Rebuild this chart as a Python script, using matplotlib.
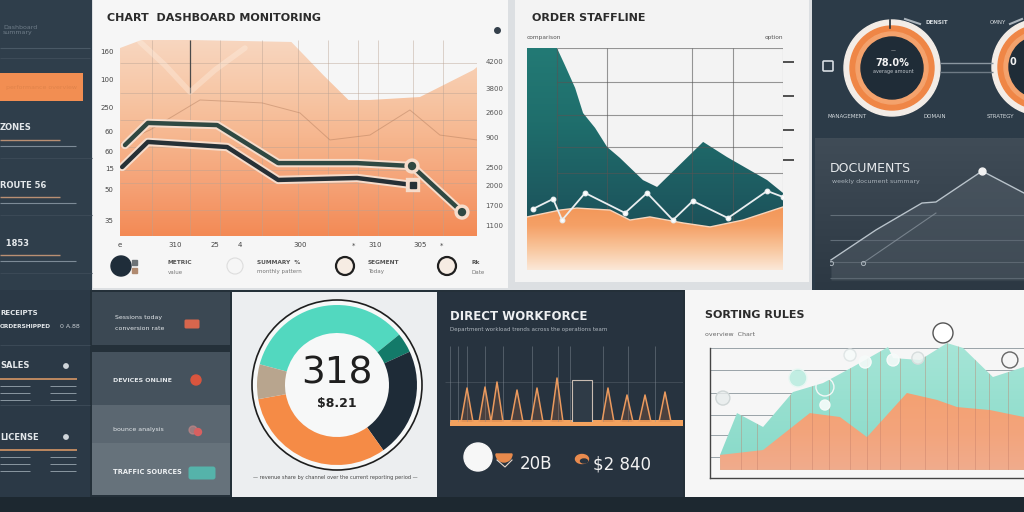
import numpy as np
import matplotlib
matplotlib.use("Agg")
import matplotlib.pyplot as plt
from matplotlib.patches import Rectangle, Circle, Wedge, FancyBboxPatch, Ellipse
from matplotlib.colors import LinearSegmentedColormap
import matplotlib.patheffects as pe

W, H = 1024, 512

# ---- top-left panel: peach area + two lines (x 0..10, y 0..100)
area1_x = [0.0, 0.6, 2.0, 4.8, 5.7, 6.4, 7.0, 8.4, 9.9, 10.0]
area1_y = [95.9, 100, 100, 99, 82, 69.4, 69.4, 70.9, 84.7, 86.2]
thin1_x = [0.03, 0.84, 2.24, 3.98, 5.04, 5.88, 7.0, 8.12, 8.96, 10.0]
thin1_y = [47.4, 54.1, 69.4, 67.9, 62.8, 49.0, 51.5, 64.3, 51.5, 49.0]
ribbon1_x = [0.56, 1.26, 1.96, 2.66, 3.5]
ribbon1_y = [99, 87.2, 73.5, 84.7, 95.9]
line_a_x = [0.14, 0.78, 2.72, 4.43, 6.64, 8.18, 9.58]
line_a_y = [46.4, 57.7, 56.6, 37.2, 37.2, 35.7, 12.2]
line_b_x = [0.06, 0.78, 3.0, 4.43, 6.64, 8.21]
line_b_y = [35.2, 48.0, 45.4, 28.6, 29.6, 26.0]
grid1_x = [0.9, 1.96, 2.8, 3.98, 4.99, 5.83, 6.67, 7.23, 8.21, 9.05, 10.0]
grid1_y = [88.3, 73.0, 59.2, 45.4, 33.7, 27.0, 13.3]
left1_vals = [93.9, 80.1, 65.8, 53.1, 42.9, 34.2, 23.5, 7.7]
left1_labels = ["160", "100", "250", "60", "60", "15", "50", "35"]
right1_vals = [88.8, 75.5, 62.8, 50.5, 34.7, 26.0, 15.8, 5.6]
right1_labels = ["4200", "3800", "2600", "900", "2500", "2000", "1700", "1100"]
bottom1_vals = [0.0, 1.54, 2.66, 3.36, 5.04, 6.53, 7.14, 8.4, 9.02]
bottom1_labels = ["e", "310", "25", "4", "300", "*", "310", "305", "*"]

# ---- top-middle panel (x 0..10, y 0..100)
teal2_x = [0, 1.17, 1.48, 1.88, 2.19, 2.66, 3.13, 3.63, 4.53, 5.08, 6.88, 7.81, 9.38, 10.0]
teal2_y = [100, 100, 92.3, 82.0, 70.7, 64.0, 55.4, 50.5, 40.5, 37.4, 57.7, 50.9, 40.5, 34.7]
orange2_x = [0, 1.29, 1.95, 3.24, 4.02, 4.8, 6.09, 7.15, 8.44, 10.0]
orange2_y = [23.9, 27.0, 27.9, 27.0, 22.5, 23.9, 21.2, 19.4, 22.5, 28.4]
white2_x = [0.23, 1.02, 1.37, 2.27, 3.83, 4.69, 5.7, 6.48, 7.85, 9.38, 10.0]
white2_y = [27.5, 32.0, 22.5, 34.7, 25.7, 34.7, 22.5, 31.1, 23.4, 35.6, 32.9]
grid2_x = [1.17, 3.13, 6.45, 8.05, 10.0]
grid2_y = [100, 84.7, 69.8, 55.4, 43.7]
ticks2_y = [93.7, 78.4, 63.1, 49.5]

# ---- top-right dark card line (x 0..10, y 0..100)
l3_x = [0.05, 2.37, 4.74, 5.46, 7.84, 10.0]
l3_y = [15.4, 38.5, 59.2, 60.0, 83.8, 66.9]
l3b_x = [1.7, 5.46]
l3b_y = [13.1, 51.5]
grid3_y = [50, 30.8, 13.8, 1.5]

# ---- donut
donut_shares = [35, 4, 22, 32, 7]
donut_colors = ["#52d8bf", "#137a69", "#1e2b37", "#f58b46", "#b8a58e"]

# ---- spike chart (x in panel px offset, y height)
spike_x = [22, 40, 52, 72, 92, 112, 163, 182, 200, 220]
spike_h = [34, 35, 40, 32, 34, 44, 34, 27, 27, 30]
block_x, block_h = 137, 42
grid5_x = [5, 13, 22, 40, 58, 87, 113, 125, 158, 183, 210]

# ---- bottom-right area chart (x 0..10, y 0..100)
teal6_x = [0.32, 0.86, 1.69, 2.64, 3.60, 4.55, 5.67, 5.83, 6.69, 7.55, 8.06, 9.01, 10.0]
teal6_y = [14.6, 41.1, 32.3, 54.4, 60.1, 70.3, 82.9, 75.9, 74.7, 85.4, 82.3, 63.9, 70.3]
org6_x = [0.32, 1.69, 3.18, 4.14, 5.0, 6.27, 7.23, 7.87, 8.92, 10.0]
org6_y = [14.6, 17.7, 41.1, 38.6, 25.9, 53.8, 49.4, 44.9, 43.0, 38.6]
grid6_y = [82.3, 68.4, 53.8, 39.9, 27.2, 13.3]
streak6_x = [1.0, 1.5, 2.55, 3.25, 3.8, 4.45, 5.0, 5.4, 6.05, 6.85, 7.55, 7.9, 8.45, 8.9, 9.5]
dots6_x = [0.41, 2.80, 3.66, 3.66, 4.46, 4.94, 5.83, 6.62, 7.42, 9.55]
dots6_y = [50.6, 63.3, 57.6, 46.2, 77.8, 73.4, 74.7, 75.9, 91.8, 74.7]
dots6_r = [7, 9, 9, 5, 6, 6, 6, 6, 10, 8]

fig = plt.figure(figsize=(W / 100, H / 100), dpi=100)
bg = fig.add_axes([0, 0, 1, 1])
bg.set_xlim(0, W)
bg.set_ylim(H, 0)
bg.set_autoscale_on(False)
bg.axis("off")


def rect(x0, y0, x1, y1, color, z=1, **kw):
    bg.add_patch(Rectangle((x0, y0), x1 - x0, y1 - y0, facecolor=color, edgecolor="none", zorder=z, **kw))


def vgrad(x0, y0, x1, y1, colors, z=1):
    cmap = LinearSegmentedColormap.from_list("g", colors)
    bg.imshow(np.linspace(0, 1, 128).reshape(-1, 1), extent=(x0, x1, y1, y0), origin="upper",
              aspect="auto", cmap=cmap, zorder=z, interpolation="bilinear")


def px_axes(x0, y0, x1, y1):
    ax = fig.add_axes([x0 / W, 1 - y1 / H, (x1 - x0) / W, (y1 - y0) / H])
    ax.patch.set_visible(False)
    return ax


def clip_grad(ax, poly, colors, extent, z):
    cmap = LinearSegmentedColormap.from_list("g", colors)
    im = ax.imshow(np.linspace(0, 1, 128).reshape(-1, 1), extent=extent, origin="lower",
                   aspect="auto", cmap=cmap, zorder=z, interpolation="bilinear")
    im.set_clip_path(poly.get_paths()[0], transform=ax.transData)
    return im


def txt(x, y, s, size=5, color="#333333", weight="normal", ha="left", **kw):
    bg.text(x, y, s, fontsize=size, color=color, fontweight=weight, ha=ha, va="center", zorder=6, **kw)


def hline(x0, x1, y, color, lw=1.0, alpha=1.0):
    bg.plot([x0, x1], [y, y], color=color, lw=lw, alpha=alpha, zorder=4, solid_capstyle="butt")


# ---------- backgrounds
rect(0, 0, W, H, "#2b3945", z=0)
rect(0, 0, 92, 290, "#2f3e4b")
rect(92, 0, 812, 292, "#dcdfe2")
rect(93, 0, 508, 288, "#f6f6f6")
rect(515, 0, 809, 282, "#f3f3f3")
rect(812, 0, W, 292, "#2c3b48")
vgrad(815, 138, W, 290, ["#404c57", "#36424d", "#2c3843"])
rect(90, 290, W, 497, "#243039")
rect(0, 290, 90, 497, "#2b3946")
rect(0, 497, W, H, "#1d2830")

# ---------- sidebar
txt(3, 30, "Dashboard\nsummary", 4.5, "#6f7d89")
hline(0, 90, 48, "#4a5966", 0.8)
hline(0, 90, 58, "#3d4b58", 0.8)
rect(0, 73, 83, 101, "#f28e52", z=2)
txt(6, 87, "performance overview", 4.5, "#e0834a")
for y0, label in [(128, "ZONES"), (185, "ROUTE 56"), (243, "  1853")]:
    txt(0, y0, label, 6, "#e3e7ea", "bold")
    hline(0, 60, y0 + 12, "#b98f73", 1.0)
    hline(0, 76, y0 + 18, "#7d8b97", 0.8)
    hline(0, 92, y0 + 30, "#3b4956", 0.8)
txt(0, 313, "RECEIPTS", 5, "#e3e7ea", "bold")
txt(0, 326, "ORDERSHIPPED", 4.2, "#e3e7ea", "bold")
txt(60, 326, "0 A.88", 4.5, "#c9cfd4")
hline(0, 90, 345, "#3b4956", 0.8)
for y0, label in [(366, "SALES"), (437, "LICENSE")]:
    txt(0, y0, label, 6, "#e3e7ea", "bold")
    bg.add_patch(Circle((66, y0), 2.2, color="#cfd5da", zorder=5))
    hline(0, 77, y0 + 13, "#c98f62", 1.3)
    for k in range(3):
        hline(0, 30, y0 + 20 + 7 * k, "#9aa6b0", 0.6)
        hline(50, 76, y0 + 20 + 7 * k, "#9aa6b0", 0.6)
hline(0, 90, 405, "#3b4956", 0.8)

# ---------- panel 1
txt(107, 18, "CHART  DASHBOARD MONITORING", 8, "#2b2b2b", "bold")
bg.plot(497, 30, marker="o", ms=4, color="#34404b", zorder=5)
ax1 = px_axes(120, 40, 477, 236)
poly1 = ax1.fill_between(area1_x, 0, area1_y, facecolor="none", lw=0)
clip_grad(ax1, poly1, ["#f38a55", "#f5a175", "#f6b68e", "#f7c8a8", "#f8d6bf"], (0, 10, 0, 100), 1)
ax1.vlines(grid1_x, 0, 100, colors="#b9a293", lw=0.7, alpha=0.45, zorder=2)
ax1.hlines(grid1_y, 0, 10, colors="#b9a293", lw=0.7, alpha=0.45, zorder=2)
ax1.vlines([1.96], 73, 100, colors="#4a4a4a", lw=0.9, zorder=3)
ax1.plot(ribbon1_x, ribbon1_y, color="#fff2e6", lw=4, alpha=0.35, zorder=3, solid_capstyle="round")
ax1.plot(thin1_x, thin1_y, color="#b07a5a", lw=0.7, alpha=0.45, zorder=3)
glow = [pe.withStroke(linewidth=6, foreground="#f6dccb")]
ax1.plot(line_a_x, line_a_y, color="#2f4842", lw=3.2, zorder=5, solid_capstyle="round", path_effects=glow,
         marker="o", markevery=[5, 6], ms=5)
ax1.plot(line_b_x, line_b_y, color="#263036", lw=3.2, zorder=5, solid_capstyle="round", path_effects=glow,
         marker="s", markevery=[5], ms=4)
ax1.set_xlim(0, 10)
ax1.set_ylim(0, 100)
for s in ax1.spines.values():
    s.set_visible(False)
ax1.set_yticks(left1_vals, left1_labels)
ax1.set_xticks(bottom1_vals, bottom1_labels)
ax1.tick_params(length=0, labelsize=5, labelcolor="#444444", pad=4.5)
ax1r = ax1.twinx()
ax1r.set_ylim(0, 100)
ax1r.set_yticks(right1_vals, right1_labels)
ax1r.tick_params(length=0, labelsize=5, labelcolor="#555555", pad=6)
for s in ax1r.spines.values():
    s.set_visible(False)

# legend row under panel 1
bg.add_patch(Circle((121, 266), 10, color="#1f2d3a", zorder=5))
bg.add_patch(Rectangle((132, 260), 5, 5, color="#6d7377", zorder=5))
bg.add_patch(Rectangle((132, 268), 5, 5, color="#b08a70", zorder=5))
bg.add_patch(Circle((235, 266), 8, facecolor="none", edgecolor="#dddddd", lw=0.8, zorder=5))
for cx in (345, 447):
    bg.add_patch(Circle((cx, 266), 9, facecolor="#f6ece3", edgecolor="#1f1f1f", lw=1.6, zorder=5))
for x0, a, b in [(168, "METRIC", "value"), (257, "SUMMARY  %", "monthly pattern"),
                 (368, "SEGMENT", "Today"), (471, "Rk", "Date")]:
    txt(x0, 262, a, 4.2, "#555555", "bold")
    txt(x0, 272, b, 4.0, "#777777")

# ---------- panel 2
txt(532, 18, "ORDER STAFFLINE", 8, "#2b2b2b", "bold")
txt(527, 37, "comparison", 4.2, "#555555")
txt(783, 37, "option", 4.2, "#555555", ha="right")
ax2 = px_axes(527, 48, 783, 270)
poly2t = ax2.fill_between(teal2_x, 0, teal2_y, facecolor="none", lw=0)
clip_grad(ax2, poly2t, ["#1a4550", "#1d5a60", "#1f6e6c", "#237a75"], (0, 10, 0, 100), 1)
ax2.vlines(grid2_x, 20, 100, colors="#555555", lw=0.8, alpha=0.6, zorder=1.5)
ax2.hlines(grid2_y, 1.17, 10, colors="#555555", lw=0.8, alpha=0.6, zorder=1.5)
poly2o = ax2.fill_between(orange2_x, 0, orange2_y, facecolor="none", lw=0)
clip_grad(ax2, poly2o, ["#fbe8d8", "#f8c49a", "#f5a066", "#f29556"], (0, 10, 0, 30), 2)
ax2.plot(orange2_x, orange2_y, color="#f7d5bc", lw=1.0, zorder=3)
ax2.plot(white2_x, white2_y, color="#e9eef0", lw=1.3, zorder=4, marker="o", ms=3.2,
         markerfacecolor="white", markeredgecolor="#e9eef0")
ax2.set_xlim(0, 10)
ax2.set_ylim(0, 100)
for s in ax2.spines.values():
    s.set_visible(False)
ax2.set_xticks([])
ax2.yaxis.tick_right()
ax2.set_yticks(ticks2_y, [""] * len(ticks2_y))
ax2.tick_params(axis="y", length=8, width=1.2, color="#333333", pad=1)

# ---------- panel 3 (dark, gauges)
for cx, cy, val in [(892, 68, "78.0%"), (1040, 67, "0")]:
    bg.add_patch(Circle((cx, cy), 48, color="#f3ece6", zorder=3))
    bg.add_patch(Circle((cx, cy), 42, color="#ef8646", zorder=3))
    bg.add_patch(Circle((cx, cy), 36, color="#f4a26c", zorder=3))
    bg.add_patch(Circle((cx, cy), 31, color="#1f2c37", zorder=3))
    bg.plot([cx - 2, cx - 2], [cy - 48, cy - 40], color="#1f2c37", lw=1.2, zorder=4)
    txt(cx if cx < 1000 else 1013, cy - 5, val, 7, "#f2f2f2", "bold", ha="center")
txt(893, 51, "—", 3.5, "#cccccc", ha="center")
txt(893, 72, "average amount", 3.5, "#c0c6cc", ha="center")
bg.plot([905, 920], [19, 24], color="#aab3bb", lw=1.5, zorder=4)
txt(925, 22, "DENSIT", 4, "#d8dde1", "bold")
txt(990, 22, "OMNY", 4, "#d8dde1")
bg.plot([1010, 1022], [24, 19], color="#aab3bb", lw=1.5, zorder=4)
bg.add_patch(FancyBboxPatch((824, 62), 8, 8, boxstyle="round,pad=1", facecolor="#2c3b48",
                            edgecolor="#d7dde2", lw=1.2, zorder=4))
hline(940, 993, 63, "#8a96a0", 1.0)
hline(940, 993, 72, "#6e7a85", 1.0)
txt(847, 117, "MANAGEMENT", 4, "#d4dade", ha="center")
txt(935, 117, "DOMAIN", 4, "#d4dade", ha="center")
txt(1000, 117, "STRATEGY", 4, "#d4dade", ha="center")

txt(830, 168, "DOCUMENTS", 9, "#e8ebee")
txt(832, 181, "weekly document summary", 4.5, "#a9b2ba")
ax3 = px_axes(830, 150, 1024, 280)
ax3.hlines(grid3_y, 0, 10, colors="#6e7a84", lw=0.8, alpha=0.8, zorder=1)
ax3.fill_between(l3_x, 0, l3_y, color="#56616b", alpha=0.45, lw=0, zorder=2)
ax3.plot(l3_x, l3_y, color="#b9c3cb", lw=1.0, zorder=3)
ax3.plot(l3b_x, l3b_y, color="#8d98a2", lw=0.8, alpha=0.7, zorder=3)
ax3.plot([l3_x[4]], [l3_y[4]], "o", ms=5, color="#f2f2f2", zorder=4)
ax3.plot([l3_x[0], l3b_x[0]], [l3_y[0] - 2, l3b_y[0]], "o", ms=3, mfc="none", mec="#aab3bb", mew=0.7, zorder=4)
ax3.set_xlim(0, 10)
ax3.set_ylim(0, 100)
ax3.axis("off")

# ---------- bottom-left stack
rect(92, 292, 230, 345, "#3b4853", z=2)
rect(92, 352, 230, 405, "#45525d", z=2)
rect(92, 405, 230, 443, "#5b6771", z=2)
rect(92, 443, 230, 495, "#66727b", z=2)
txt(115, 318, "Sessions today", 4.5, "#e4e8eb")
txt(115, 328, "conversion rate", 4.5, "#e4e8eb")
txt(113, 380, "DEVICES ONLINE", 4.5, "#e4e8eb", "bold")
txt(113, 430, "bounce analysis", 4.5, "#e4e8eb")
txt(113, 472, "TRAFFIC SOURCES", 4.8, "#eef1f3", "bold")
bg.add_patch(FancyBboxPatch((186, 321), 12, 6, boxstyle="round,pad=1.5", facecolor="#d7664d",
                            edgecolor="none", zorder=4))
bg.add_patch(Circle((196, 380), 5, color="#d9553e", zorder=4))
bg.add_patch(Circle((193, 430), 4, color="#c98989", alpha=0.6, zorder=4))
bg.add_patch(Circle((198, 432), 3.5, color="#d86060", zorder=4))
bg.add_patch(FancyBboxPatch((191, 469), 22, 8, boxstyle="round,pad=2.5", facecolor="#55b3aa",
                            edgecolor="none", zorder=4))

# ---------- donut panel
rect(232, 292, 437, 497, "#eceef0", z=2)
bg.add_patch(Circle((337, 385), 85, facecolor="#f7f8f8", edgecolor="#1e1e1e", lw=1.2, zorder=3))
ax4 = px_axes(257, 305, 417, 465)
ax4.pie(donut_shares, colors=donut_colors, startangle=165, counterclock=False,
        wedgeprops=dict(width=0.35, edgecolor="none"))
ax4.set_xlim(-1, 1)
ax4.set_ylim(-1, 1)
txt(337, 373, "318", 27, "#1f1f1f", ha="center")
txt(337, 404, "$8.21", 9, "#222222", "bold", ha="center")
txt(335, 478, "— revenue share by channel over the current reporting period —", 3.6, "#444444", ha="center")

# ---------- spike panel
rect(437, 292, 683, 497, "#27333f", z=2)
txt(450, 316, "DIRECT WORKFORCE", 8.5, "#eef0f2", "bold")
txt(450, 330, "Department workload trends across the operations team", 4, "#b0b8bf")
ax5 = px_axes(445, 340, 683, 422)
ax5.vlines(grid5_x, 0, 76, colors="#8a949d", lw=0.6, alpha=0.5, zorder=1)
ax5.hlines([40], 0, 238, colors="#8a949d", lw=0.5, alpha=0.35, zorder=1)
ax5.bar(block_x, block_h, width=20, facecolor="#2f3b47", edgecolor="#c9bcb2", lw=0.8, zorder=2)
for sx, sh in zip(spike_x, spike_h):
    ax5.fill([sx - 6, sx, sx + 6], [0, sh, 0], color="#b5683c", alpha=0.25, lw=0, zorder=2)
    ax5.plot([sx - 6, sx, sx + 6], [0, sh, 0], color="#eb9a5e", lw=1.1, zorder=3)
ax5.set_xlim(0, 238)
ax5.set_ylim(0, 82)
ax5.axis("off")
rect(450, 420, 683, 426, "#f3a25e", z=3)
bg.add_patch(Circle((478, 457), 14, color="#f7f7f7", zorder=4))
bg.add_patch(Wedge((504, 454), 8, 0, 180, color="#e88a4c", zorder=4))
bg.plot([497, 505, 512], [460, 467, 460], color="#e9d9cc", lw=0.8, zorder=5)
bg.add_patch(Ellipse((582, 459), 13, 9, color="#e98b4e", zorder=4))
bg.add_patch(Ellipse((584, 461), 7, 4, color="#27333f", zorder=5))
txt(520, 464, "20B", 12, "#f2f2f2")
txt(593, 464, "$2 840", 12, "#f2f2f2")

# ---------- area panel
rect(685, 290, W, 497, "#f6f6f6", z=2)
txt(705, 315, "SORTING RULES", 8, "#2b2b2b", "bold")
txt(705, 335, "overview  Chart", 4.5, "#666666")
ax6 = px_axes(710, 320, 1024, 478)
ax6.hlines(grid6_y, 0, 10, colors="#9aa3a8", lw=0.7, zorder=1)
poly6t = ax6.fill_between(teal6_x, 5.1, teal6_y, facecolor="none", lw=0)
clip_grad(ax6, poly6t, ["#86d9c8", "#98e0d0", "#ace8da"], (0, 10, 0, 100), 2)
poly6o = ax6.fill_between(org6_x, 5.1, org6_y, facecolor="none", lw=0)
clip_grad(ax6, poly6o, ["#f0ad90", "#f3a47b", "#f4a070"], (0, 10, 0, 60), 3)
streaks = ax6.vlines(streak6_x, 5.1, 100, colors="#c07a66", lw=0.6, alpha=0.45, zorder=4)
streaks.set_clip_path(poly6t.get_paths()[0], transform=ax6.transData)
sizes = [(2 * r / 1.389) ** 2 for r in dots6_r]
faces = ["#e8ececcc", "#b9ece0dd", "#ffffff00", "#f4fbf9ee", "#f7fbfadd", "#f7fbfadd", "#f7fbfadd",
         "#eef3f2cc", "#ffffffff", "#ffffff00"]
edges = ["#cfd6d6", "#e9f7f3", "#f3f7f6", "#f4fbf9", "#e0e6e6", "#f7fbfa", "#f7fbfa", "#d7dddd",
         "#555555", "#666666"]
ax6.scatter(dots6_x, dots6_y, s=sizes, c=faces, edgecolors=edges, linewidths=1.0, zorder=5,
            clip_on=False)
ax6.set_xlim(0, 10)
ax6.set_ylim(0, 100)
ax6.spines["top"].set_visible(False)
ax6.spines["right"].set_visible(False)
ax6.spines["left"].set_bounds(0, 82.3)
for k in ("left", "bottom"):
    ax6.spines[k].set_color("#444444")
    ax6.spines[k].set_linewidth(1.0)
ax6.set_xticks([])
ax6.set_yticks([])

bg.set_xlim(0, W)
bg.set_ylim(H, 0)
fig.savefig("out.png", dpi=100)
